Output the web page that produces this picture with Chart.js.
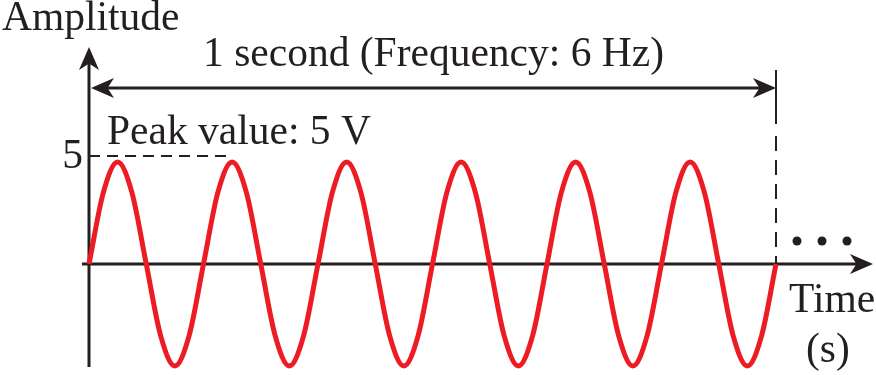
<!DOCTYPE html>
<html>
<head>
<meta charset="utf-8">
<script src="https://cdn.jsdelivr.net/npm/chart.js@4/dist/chart.umd.min.js"></script>
<style>
  html, body { margin: 0; padding: 0; background: #fff; }
  canvas { display: block; }
</style>
</head>
<body>
<canvas id="wave" width="876" height="375"></canvas>
<script>
// one second of a 6 Hz sine, sampled every 1/8 of a period (volts)
const amplitude = [
  0, 3.5, 5, 3.5, 0, -3.5, -5, -3.5,
  0, 3.5, 5, 3.5, 0, -3.5, -5, -3.5,
  0, 3.5, 5, 3.5, 0, -3.5, -5, -3.5,
  0, 3.5, 5, 3.5, 0, -3.5, -5, -3.5,
  0, 3.5, 5, 3.5, 0, -3.5, -5, -3.5,
  0, 3.5, 5, 3.5, 0, -3.5, -5, -3.5,
  0
];
const duration = 1;          // seconds covered by the samples
const peakVolts = 5;
const peakLineEnd = 0.2;     // where the dashed peak guide stops (s)
const yTicks = [5];
const yTitle = "Amplitude";
const xTitle = ["Time", "(s)"];
const spanLabel = "1 second (Frequency: 6 Hz)";
const peakLabel = "Peak value: 5 V";

const ink = "#231f20";
const font = "41.5px 'Liberation Serif', 'Times New Roman', serif";

const points = amplitude.map((v, i) => ({
  x: duration * i / (amplitude.length - 1),
  y: v
}));

function arrowHead(ctx, x, y, angle, len, half) {
  ctx.save();
  ctx.translate(x, y);
  ctx.rotate(angle);
  ctx.beginPath();
  ctx.moveTo(0, 0);
  ctx.lineTo(-len, -half);
  ctx.lineTo(-len * 0.72, 0);
  ctx.lineTo(-len, half);
  ctx.closePath();
  ctx.fill();
  ctx.restore();
}

function line(ctx, x1, y1, x2, y2, dash) {
  ctx.setLineDash(dash || []);
  ctx.beginPath();
  ctx.moveTo(x1, y1);
  ctx.lineTo(x2, y2);
  ctx.stroke();
  ctx.setLineDash([]);
}

// axes, span arrow and guides go under the wave
const axesPlugin = {
  id: "axes",
  beforeDatasetsDraw(chart) {
    const { ctx, scales: { x, y } } = chart;
    const x0 = x.getPixelForValue(0);
    const x1 = x.getPixelForValue(duration);
    const y0 = y.getPixelForValue(0);
    const yPeak = y.getPixelForValue(peakVolts);

    ctx.save();
    ctx.strokeStyle = ink;
    ctx.fillStyle = ink;
    ctx.lineWidth = 3;

    // y axis
    line(ctx, x0, 367, x0, 60);
    arrowHead(ctx, x0, 47, -Math.PI / 2, 23, 10);
    // x axis
    line(ctx, x0 - 7, y0, 860, y0);
    arrowHead(ctx, 873, y0, 0, 23, 10);

    // span arrow over one second
    const ySpan = 88;
    line(ctx, x0 + 10, ySpan, x1 - 10, ySpan);
    arrowHead(ctx, x0 + 2, ySpan, Math.PI, 23, 10);
    arrowHead(ctx, x1, ySpan, 0, 23, 10);

    // end-of-second marker
    ctx.lineWidth = 2;
    line(ctx, x1, 70, x1, 124);
    line(ctx, x1, 136, x1, y0, [15, 9]);

    // peak guide
    line(ctx, x0, yPeak - 6, x.getPixelForValue(peakLineEnd), yPeak - 6, [11, 7]);

    // continuation dots
    [x1 + 21, x1 + 46, x1 + 71].forEach(cx => {
      ctx.beginPath();
      ctx.arc(cx, y0 - 23, 4.5, 0, Math.PI * 2);
      ctx.fill();
    });
    ctx.restore();
  }
};

const textPlugin = {
  id: "texts",
  afterDraw(chart) {
    const { ctx, scales: { x, y } } = chart;
    const x0 = x.getPixelForValue(0);
    const x1 = x.getPixelForValue(duration);
    ctx.save();
    ctx.fillStyle = ink;
    ctx.font = font;
    ctx.textBaseline = "alphabetic";

    ctx.textAlign = "left";
    ctx.fillText(yTitle, 2, 30);
    ctx.fillText(peakLabel, x0 + 18, 144);
    ctx.fillText(xTitle[0], 789, 312);
    ctx.fillText(xTitle[1], 806, 362);

    ctx.textAlign = "center";
    ctx.fillText(spanLabel, (x0 + x1) / 2 + 1, 66);

    ctx.textAlign = "right";
    yTicks.forEach(t => ctx.fillText(String(t), x0 - 6, y.getPixelForValue(t) + 6));
    ctx.restore();
  }
};

new Chart(document.getElementById("wave").getContext("2d"), {
  type: "line",
  data: {
    datasets: [{
      data: points,
      borderColor: "#ed1c24",
      borderWidth: 5,
      pointRadius: 0,
      fill: false,
      cubicInterpolationMode: "monotone",
      clip: false
    }]
  },
  options: {
    responsive: false,
    animation: false,
    events: [],
    layout: { padding: { left: 89, right: 100, top: 162, bottom: 9 } },
    plugins: { legend: { display: false }, tooltip: { enabled: false } },
    scales: {
      x: { type: "linear", min: 0, max: duration, display: false },
      y: { min: -peakVolts, max: peakVolts, display: false }
    }
  },
  plugins: [axesPlugin, textPlugin]
});
</script>
</body>
</html>
